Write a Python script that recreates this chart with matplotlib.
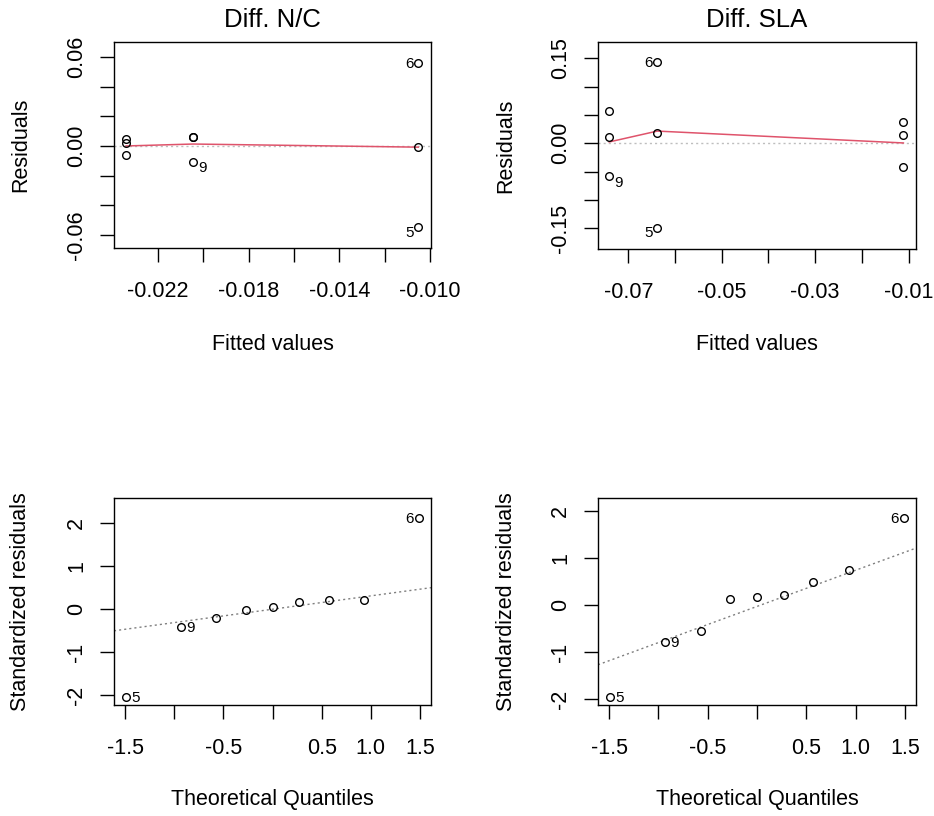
import matplotlib
matplotlib.use("Agg")
import matplotlib.pyplot as plt
import numpy as np

plt.rcParams['font.family'] = ['Liberation Sans', 'DejaVu Sans']

# ---------------- data ----------------
titles = ["Diff. N/C", "Diff. SLA"]

# Residuals vs fitted (observation ids 1..9)
obs_ids = [1, 2, 3, 4, 7, 9, 6, 8, 5]
fitted_nc = [-0.02341, -0.02341, -0.02341, -0.02045, -0.02045, -0.02045, -0.01052, -0.01052, -0.01052]
resid_nc = [0.0050, 0.0020, -0.0060, 0.0062, 0.0058, -0.0107, 0.0560, -0.0007, -0.0547]
smooth_x_nc = [-0.02341, -0.02045, -0.01052]
smooth_y_nc = [0.0000, 0.0013, -0.0008]

fitted_sla = [-0.0741, -0.0741, -0.0741, -0.0638, -0.0638, -0.0638, -0.0111, -0.0111, -0.0111]
resid_sla = [0.0565, 0.0106, -0.0580, 0.1430, 0.0176, -0.1500, 0.0370, 0.0141, -0.0424]
obs_ids_sla = [1, 2, 9, 6, 3, 5, 4, 7, 8]
smooth_x_sla = [-0.0741, -0.0638, -0.0111]
smooth_y_sla = [0.0023, 0.0215, 0.0005]

# Normal Q-Q
theo_q = [-1.49, -0.93, -0.57, -0.27, 0.0, 0.27, 0.57, 0.93, 1.49]
qq_ids = [5, 9, None, None, None, None, None, None, 6]
std_res_nc = [-2.04, -0.42, -0.21, -0.02, 0.05, 0.17, 0.21, 0.22, 2.12]
std_res_sla = [-1.96, -0.79, -0.55, 0.13, 0.17, 0.21, 0.49, 0.74, 1.85]

# tick positions / labels
xt_nc = [-0.022, -0.020, -0.018, -0.016, -0.014, -0.012, -0.010]
xtl_nc = ["-0.022", "", "-0.018", "", "-0.014", "", "-0.010"]
yt_nc = [-0.06, -0.04, -0.02, 0.0, 0.02, 0.04, 0.06]
ytl_nc = ["-0.06", "", "", "0.00", "", "", "0.06"]
xt_sla = [-0.07, -0.06, -0.05, -0.04, -0.03, -0.02, -0.01]
xtl_sla = ["-0.07", "", "-0.05", "", "-0.03", "", "-0.01"]
yt_sla = [-0.15, -0.10, -0.05, 0.0, 0.05, 0.10, 0.15]
ytl_sla = ["-0.15", "", "", "0.00", "", "", "0.15"]
xt_qq = [-1.5, -1.0, -0.5, 0.0, 0.5, 1.0, 1.5]
xtl_qq = ["-1.5", "", "-0.5", "", "0.5", "1.0", "1.5"]
yt_qq = [-2, -1, 0, 1, 2]
ytl_qq = ["-2", "-1", "0", "1", "2"]

# ---------------- figure ----------------
W, H = 934, 816
fig = plt.figure(figsize=(W / 100, H / 100), dpi=100)


def px_axes(l, r, t, b):
    return fig.add_axes([l / W, (H - b) / H, (r - l) / W, (b - t) / H])


ax_tl = px_axes(114, 431, 42, 248)
ax_tr = px_axes(598, 916, 42, 249)
ax_bl = px_axes(114, 431, 498, 705)
ax_br = px_axes(598, 916, 498, 705)

RED = "#DF536B"
TICKFS = 15.5
LABFS = 15.5
IDFS = 11


def style(ax, xt, xtl, yt, ytl, xlim, ylim, xlabel, ylabel):
    ax.set_xlim(*xlim)
    ax.set_ylim(*ylim)
    ax.set_xticks(xt)
    ax.set_xticklabels(xtl)
    ax.set_yticks(yt)
    ax.set_yticklabels(ytl)
    for s in ax.spines.values():
        s.set_linewidth(1.0)
        s.set_color("black")
    ax.tick_params(axis="both", direction="out", length=10, width=1.0,
                   labelsize=TICKFS, colors="black")
    ax.tick_params(axis="x", pad=14)
    ax.tick_params(axis="y", pad=9.5, labelrotation=90)
    for lab in ax.get_yticklabels():
        lab.set_va("center")
        lab.set_ha("right")
    ax.set_xlabel(xlabel, fontsize=LABFS, va="center")
    ax.set_ylabel(ylabel, fontsize=LABFS, va="center")


def label_pt(ax, x, y, txt, dx, dy, ha):
    ax.annotate(txt, (x, y), xytext=(dx, dy), textcoords="offset points",
                ha=ha, va="center", fontsize=IDFS, annotation_clip=False)


# ---- top-left: residuals vs fitted (N/C)
ax = ax_tl
ax.axhline(0, color="#BEBEBE", lw=1.0, ls=(0, (1.5, 2.2)), zorder=1)
ax.plot(smooth_x_nc, smooth_y_nc, color=RED, lw=1.1, zorder=2)
ax.plot(fitted_nc, resid_nc, ls="none", marker="o", ms=5.5, mfc="none",
        mec="black", mew=1.0, zorder=3)
style(ax, xt_nc, xtl_nc, yt_nc, ytl_nc, (-0.02394, -0.00996), (-0.0687, 0.0700),
      "Fitted values", "Residuals")
ax.set_title(titles[0], fontsize=18.5, pad=0, y=1.107, va="center")
for x, y, i in zip(fitted_nc, resid_nc, obs_ids):
    if i == 6:
        label_pt(ax, x, y, "6", -3.5, -0.7, "right")
    elif i == 5:
        label_pt(ax, x, y, "5", -3.5, -4.3, "right")
    elif i == 9:
        label_pt(ax, x, y, "9", 3.5, -4.6, "left")

# ---- top-right: residuals vs fitted (SLA)
ax = ax_tr
ax.axhline(0, color="#BEBEBE", lw=1.0, ls=(0, (1.5, 2.2)), zorder=1)
ax.plot(smooth_x_sla, smooth_y_sla, color=RED, lw=1.1, zorder=2)
ax.plot(fitted_sla, resid_sla, ls="none", marker="o", ms=5.5, mfc="none",
        mec="black", mew=1.0, zorder=3)
style(ax, xt_sla, xtl_sla, yt_sla, ytl_sla, (-0.0765, -0.0084), (-0.187, 0.179),
      "Fitted values", "Residuals")
ax.set_title(titles[1], fontsize=18.5, pad=0, y=(249 - 20) / 207, va="center")
for x, y, i in zip(fitted_sla, resid_sla, obs_ids_sla):
    if i == 6:
        label_pt(ax, x, y, "6", -3.5, -0.7, "right")
    elif i == 5:
        label_pt(ax, x, y, "5", -3.5, -3.6, "right")
    elif i == 9:
        label_pt(ax, x, y, "9", 3.5, -5.0, "left")

# ---- bottom: normal Q-Q
Z75 = 0.6745
for ax, sr in ((ax_bl, std_res_nc), (ax_br, std_res_sla)):
    q1, q3 = np.percentile(sr, [25, 75])
    slope = (q3 - q1) / (2 * Z75)
    intercept = q1 + Z75 * slope
    ax.axline((0, intercept), slope=slope, color="#7F7F7F", lw=1.0,
              ls=(0, (1.5, 2.2)), zorder=1)
    ax.plot(theo_q, sr, ls="none", marker="o", ms=5.5, mfc="none",
            mec="black", mew=1.0, zorder=3)
    for x, y, i in zip(theo_q, sr, qq_ids):
        if i == 6:
            label_pt(ax, x, y, "6", -3.5, -0.5, "right")
        elif i in (5, 9):
            label_pt(ax, x, y, str(i), 3.5, -0.8, "left")

style(ax_bl, xt_qq, xtl_qq, yt_qq, ytl_qq, (-1.612, 1.612), (-2.23, 2.59),
      "Theoretical Quantiles", "Standardized residuals")
style(ax_br, xt_qq, xtl_qq, yt_qq, ytl_qq, (-1.612, 1.612), (-2.13, 2.28),
      "Theoretical Quantiles", "Standardized residuals")

# axis-label positions
ax_tl.xaxis.set_label_coords(0.5, (248 - 345) / 206)
ax_tr.xaxis.set_label_coords(0.5, (249 - 345) / 207)
ax_bl.xaxis.set_label_coords(0.5, (705 - 800) / 207)
ax_br.xaxis.set_label_coords(0.5, (705 - 800) / 207)
ax_tl.yaxis.set_label_coords((21 - 114) / 317, 0.5)
ax_bl.yaxis.set_label_coords((21 - 114) / 317, 0.5)
ax_tr.yaxis.set_label_coords((506 - 598) / 318, 0.5)
ax_br.yaxis.set_label_coords((506 - 598) / 318, 0.5)

fig.savefig("out.png", dpi=100, facecolor="white")
